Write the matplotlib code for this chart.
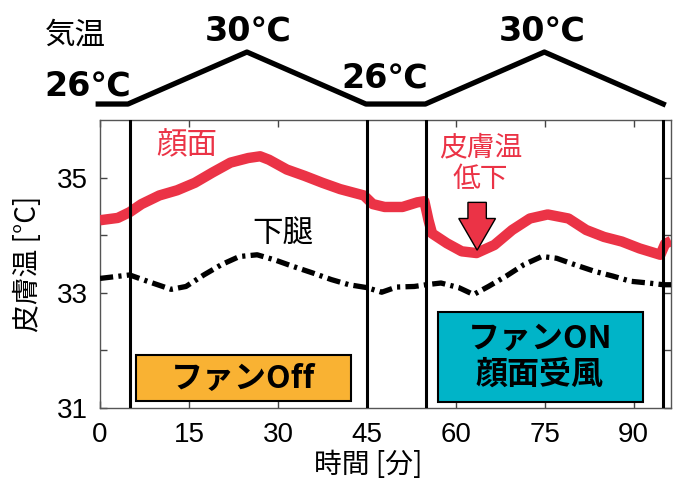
import numpy as np
import matplotlib.pyplot as plt
from matplotlib.patches import Rectangle, FancyArrow

plt.rcParams['font.family'] = ['Noto Sans CJK JP', 'DejaVu Sans']

# air temperature profile (top)
air_t = [0, 5, 25, 45, 55, 75, 95]
air_v = [26, 26, 30, 26, 26, 30, 26]

# face skin temperature
face_t = [0, 3, 5, 7, 10, 13, 16, 19, 22, 25, 27, 28.5, 31.5, 34.5, 37.5, 40.5,
          44.5, 46, 48, 51, 53.5, 54.7, 55.4, 56, 58.5, 61, 63.5, 66.5, 69.5,
          72.5, 75.5, 79, 82, 85, 88, 91, 94.5, 95.3, 96.3]
face_v = [34.26, 34.30, 34.40, 34.54, 34.69, 34.78, 34.91, 35.09, 35.26, 35.34,
          35.37, 35.31, 35.14, 35.03, 34.91, 34.80, 34.69, 34.54, 34.49, 34.49,
          34.57, 34.59, 34.26, 34.03, 33.86, 33.72, 33.69, 33.83, 34.09, 34.29,
          34.36, 34.29, 34.09, 33.97, 33.89, 33.77, 33.66, 33.85, 33.9]

# lower leg skin temperature
leg_t = [0, 5, 8, 12, 14.5, 17.5, 20.5, 23.5, 26.5, 29.5, 32.5, 36, 39, 42, 45,
         47.5, 50, 53, 55, 57.5, 60.5, 63, 65.5, 68.5, 71.5, 74.5, 77, 80, 83.5,
         86.5, 89.5, 92.5, 95, 96.3]
leg_v = [33.25, 33.31, 33.2, 33.06, 33.11, 33.31, 33.49, 33.63, 33.66, 33.57,
         33.46, 33.34, 33.23, 33.14, 33.09, 33.01, 33.10, 33.11, 33.14, 33.17,
         33.09, 32.97, 33.11, 33.29, 33.49, 33.63, 33.6, 33.49, 33.37, 33.29,
         33.2, 33.17, 33.14, 33.14]

phase_lines = [5, 45, 55, 95]
xticks = [0, 15, 30, 45, 60, 75, 90]

red = '#EB3346'

fig = plt.figure(figsize=(6.74, 4.87), dpi=100)
ax = fig.add_axes([0.1484, 0.1622, 0.8472, 0.5914])

ax.plot(face_t, face_v, color=red, lw=7.5, solid_capstyle='butt', zorder=3)
ax.plot(leg_t, leg_v, color='black', lw=3.8, linestyle=(0, (2.5, 1, 0.6, 1)), zorder=3)
for xl in phase_lines:
    ax.axvline(xl, color='black', lw=2.2, zorder=4)

ax.set_xlim(0.3, 96.3)
ax.set_ylim(31, 36)
ax.set_xticks(xticks)
ax.set_yticks([31, 33, 35])
ax.set_yticks([32, 34], minor=True)
ax.tick_params(which='both', direction='in', top=True, right=True, length=5,
               width=1, color='#444444', labelsize=20)
ax.tick_params(axis='x', pad=10)
ax.tick_params(axis='y', pad=9)
for lab in ax.get_xticklabels() + ax.get_yticklabels():
    lab.set_family(['Liberation Sans', 'DejaVu Sans'])
for s in ax.spines.values():
    s.set_color('#555555')
    s.set_linewidth(1)

ax.set_xlabel('時間 [分]', fontsize=20)
ax.set_ylabel('皮膚温 [°C]', fontsize=20)
ax.xaxis.set_label_coords(0.469, -0.145)
ax.yaxis.set_label_coords(-0.1, 0.5)

ax.text(14.6, 35.56, '顔面', color=red, fontsize=22, ha='center', va='center')
ax.text(30.8, 34.03, '下腿', color='black', fontsize=22, ha='center', va='center')
ax.text(64.2, 35.25, '皮膚温\n低下', color=red, fontsize=20, ha='center',
        va='center', linespacing=1.05)
ax.add_patch(FancyArrow(63.6, 34.57, 0, -0.83, width=3.1, head_width=6.2,
                        head_length=0.55, length_includes_head=True,
                        facecolor=red, edgecolor='black', lw=1, zorder=5))

ax.add_patch(Rectangle((6.0, 31.13), 36.3, 0.79, facecolor='#F9B233',
                       edgecolor='black', lw=1.5, zorder=5))
ax.text(24.1, 31.52, 'ファンOff', fontsize=23, fontweight='bold',
        ha='center', va='center', zorder=6)
ax.add_patch(Rectangle((57.0, 31.1), 34.5, 1.56, facecolor='#00B4C8',
                       edgecolor='black', lw=1.5, zorder=5))
ax.text(74.2, 31.88, 'ファンON\n顔面受風', fontsize=23, fontweight='bold',
        ha='center', va='center', linespacing=1.15, zorder=6)

# air temperature panel
top = fig.add_axes([0.1484, 0.7741, 0.8472, 0.2053])
top.set_xlim(0.3, 96.3)
top.set_ylim(25.54, 33.23)
top.axis('off')
top.plot(air_t, air_v, color='black', lw=3.8, clip_on=False)
big = dict(fontsize=24, fontweight='bold', ha='center', va='center',
           family=['DejaVu Sans', 'Noto Sans CJK JP'])
top.text(-3.9, 31.3, '気温', fontsize=22, ha='center', va='center', clip_on=False)
top.text(25.2, 31.6, '30℃', **big)
top.text(74.7, 31.6, '30℃', **big)
top.text(-1.7, 27.4, '26℃', clip_on=False, **big)
top.text(48.2, 28.0, '26℃', **big)

fig.savefig('out.png', dpi=100)
